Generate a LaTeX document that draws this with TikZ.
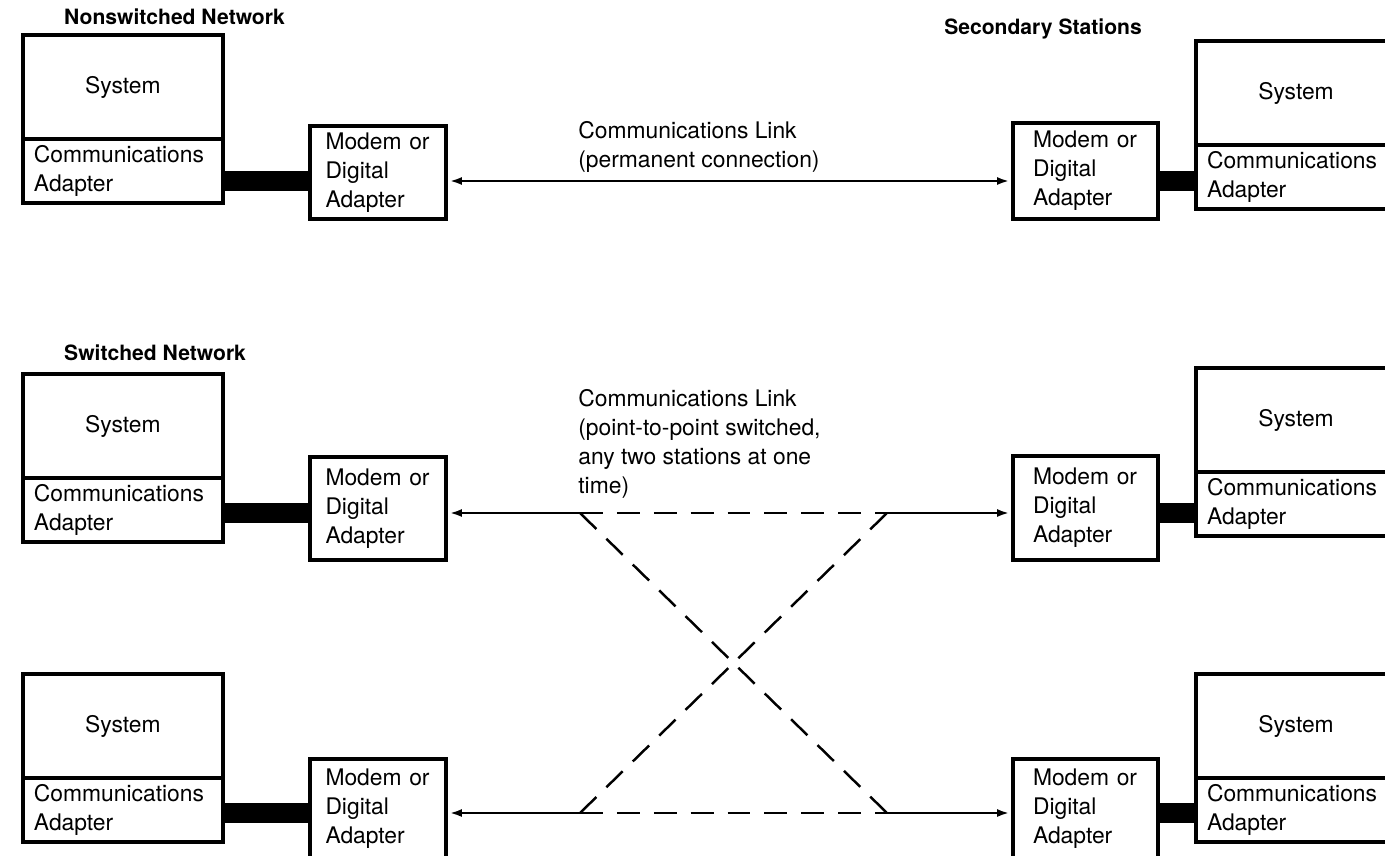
\documentclass[tikz,border=0pt]{standalone}
\usepackage{fontspec}
\setmainfont{TeX Gyre Heros}
\usetikzlibrary{arrows.meta,positioning}

\tikzset{
  box/.style={draw, line width=2pt, outer sep=0pt, inner sep=0pt},
  sys/.style={box, minimum width=4cm, minimum height=2.08cm},
  adp/.style={box, minimum width=4cm, minimum height=1.28cm, text width=3.56cm, align=left},
  modem/.style={box, text width=2.1cm, align=left, inner xsep=#1, minimum height=2cm},
  bar/.style={line width=11pt},
  link/.style={line width=1.4pt},
  arr/.style={-{Latex[length=7pt,width=4.5pt]}, shorten >=2pt},
  switched/.style={line width=1.4pt, dash pattern=on 13pt off 8pt},
  heading/.style={font=\fontsize{12}{14}\selectfont\bfseries},
  note/.style={align=left, anchor=north west, inner sep=0pt}
}

\begin{document}
\begin{tikzpicture}[x=0.02cm, y=-0.02cm, font=\fontsize{13}{16.5}\selectfont]
  \clip (0,0) rectangle (1385,855);

  \node[heading, anchor=base west] (hdNon) at (58,25) {Nonswitched Network};
  \node[heading, anchor=base east] (hdSec) at (1148,35) {Secondary Stations};
  \node[heading, anchor=base west] (hdSw) at (58,360) {Switched Network};

  % one row of stations: row/system tops/modem tops/modem heights/link y
  \foreach \r/\sl/\sr/\ml/\mr/\hl/\hr/\ly in {
     1/35/41/126/123/1.86cm/1.92cm/181,
     2/374/368/457/456/2.06cm/2.08cm/513,
     3/674/674/759/759/2cm/2cm/813}{
    \coordinate (ln\r) at (700,\ly);
    % left station
    \node[sys, anchor=north west] (sysL\r) at (23,\sl) {System};
    \node[adp, below=0pt of sysL\r] (adpL\r) {Communications\\Adapter};
    \node[modem=0.31cm, minimum height=\hl, anchor=north west] (modL\r) at (310,\ml) {Modem or\\Digital\\Adapter};
    \draw[bar] (adpL\r.east |- ln\r) -- (modL\r.west |- ln\r);
    % right station
    \node[sys, anchor=north west] (sysR\r) at (1196,\sr) {System};
    \node[adp, below=0pt of sysR\r] (adpR\r) {Communications\\Adapter};
    \node[modem=0.4cm, minimum height=\hr, anchor=north west] (modR\r) at (1013,\mr) {Modem or\\Digital\\Adapter};
    \draw[bar] (modR\r.east |- ln\r) -- (adpR\r.west |- ln\r);
  }

  % nonswitched link
  \node[note] (noteA) at (578,121) {Communications Link\\(permanent connection)};
  \draw[link, {Latex[length=7pt,width=4.5pt]}-{Latex[length=7pt,width=4.5pt]}, shorten <=2pt, shorten >=2pt]
    (modL1.east |- ln1) -- (modR1.west |- ln1);

  % switched links
  \node[note] (noteB) at (578,389) {Communications Link\\(point-to-point switched,\\any two stations at one\\time)};
  \coordinate (swA) at (580,513);
  \coordinate (swB) at (887,513);
  \coordinate (swC) at (580,813);
  \coordinate (swD) at (887,813);
  \draw[link, arr] (swA) -- (modL2.east |- swA);
  \draw[link, arr] (swB) -- (modR2.west |- swB);
  \draw[link, arr] (swC) -- (modL3.east |- swC);
  \draw[link, arr] (swD) -- (modR3.west |- swD);
  \draw[switched] (swA) -- (swB);
  \draw[switched] (swC) -- (swD);
  \draw[switched] (swA) -- (swD);
  \draw[switched] (swC) -- (swB);
\end{tikzpicture}
\end{document}
